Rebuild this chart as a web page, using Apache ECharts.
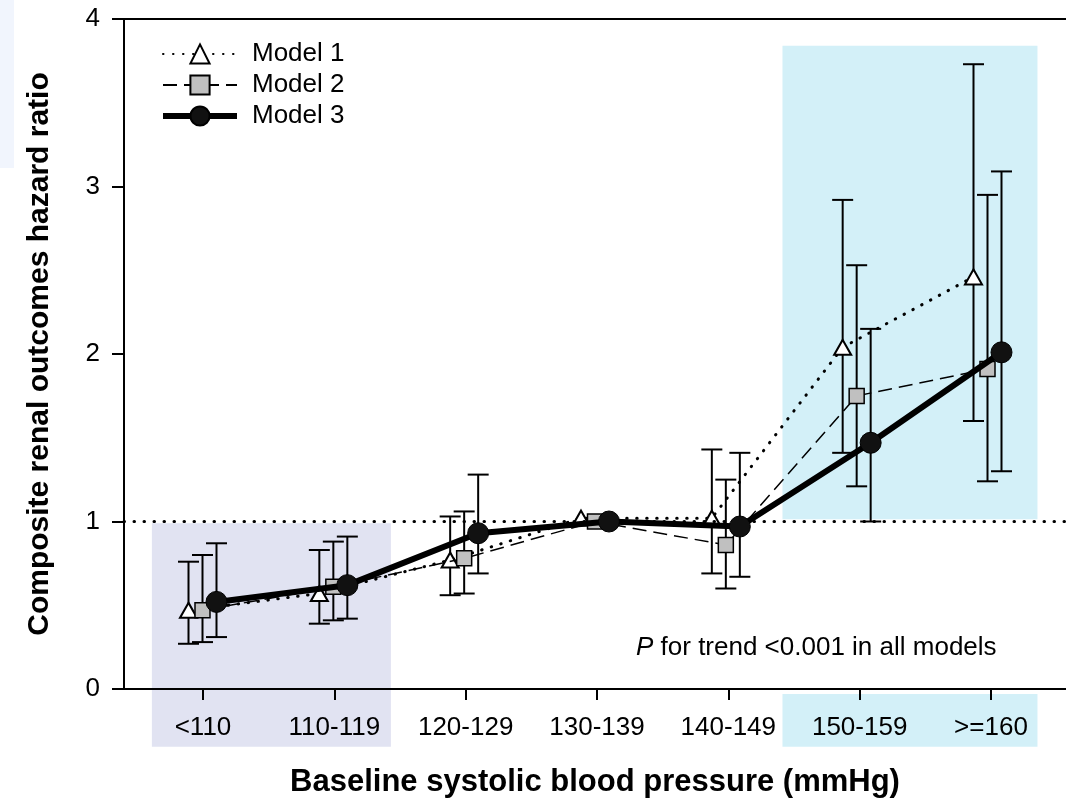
<!DOCTYPE html>
<html>
<head>
<meta charset="utf-8">
<script src="https://cdn.jsdelivr.net/npm/echarts@6/dist/echarts.min.js"></script>
<style>html,body{margin:0;padding:0;background:#fff}#c{width:1066px;height:803px}</style>
</head>
<body>
<div id="c"></div>
<script>
const categories = ['<110', '110-119', '120-129', '130-139', '140-149', '150-159', '>=160'];
const yTicks = [0, 1, 2, 3, 4];
const model1 = [0.47, 0.57, 0.77, 1.02, 1.02, 2.04, 2.46];
const model1Lo = [0.27, 0.39, 0.56, null, 0.69, 1.41, 1.60];
const model1Hi = [0.76, 0.83, 1.03, null, 1.43, 2.92, 3.73];
const model2 = [0.47, 0.61, 0.78, 1.00, 0.86, 1.75, 1.91];
const model2Lo = [0.28, 0.41, 0.57, null, 0.60, 1.21, 1.24];
const model2Hi = [0.80, 0.88, 1.06, null, 1.25, 2.53, 2.95];
const model3 = [0.52, 0.62, 0.93, 1.00, 0.97, 1.47, 2.01];
const model3Lo = [0.31, 0.42, 0.69, null, 0.67, 1.00, 1.30];
const model3Hi = [0.87, 0.91, 1.28, null, 1.41, 2.15, 3.09];
const referenceHR = 1;

const FONT = "'Liberation Sans', Arial, sans-serif";
const OFF = 0.107;
const pos = (i, d) => i + 1 + d;

function pts(vals, d) { return vals.map((v, i) => [pos(i, d), v]); }
function bars(lo, hi, d) {
  const out = [];
  lo.forEach((l, i) => { if (l != null && hi[i] != null) out.push([pos(i, d), l, hi[i]]); });
  return out;
}
function errSeries(data) {
  return {
    type: 'custom', xAxisIndex: 0, yAxisIndex: 0, z: 1, silent: true,
    data: data,
    encode: { x: 0, y: [1, 2] },
    renderItem: function (params, api) {
      const x = api.value(0), lo = api.value(1), hi = api.value(2);
      const a = api.coord([x, lo]), b = api.coord([x, hi]);
      const hw = 10.5;
      const st = { stroke: '#000', lineWidth: 2 };
      return {
        type: 'group', children: [
          { type: 'line', shape: { x1: a[0], y1: a[1], x2: b[0], y2: b[1] }, style: st },
          { type: 'line', shape: { x1: a[0] - hw, y1: a[1], x2: a[0] + hw, y2: a[1] }, style: st },
          { type: 'line', shape: { x1: b[0] - hw, y1: b[1], x2: b[0] + hw, y2: b[1] }, style: st }
        ]
      };
    }
  };
}

const chart = echarts.init(document.getElementById('c'), null, { renderer: 'canvas' });
const option = {
  animation: false,
  backgroundColor: '#fff',
  textStyle: { fontFamily: FONT },
  grid: [
    { left: 124, top: 19, width: 945.6, height: 671 },
    { left: 137.33, top: 19, width: 919.3, height: 671 }
  ],
  xAxis: [
    {
      gridIndex: 0, type: 'value', min: 0.4, max: 7.6,
      axisLine: { show: true, lineStyle: { color: '#000', width: 2 } },
      axisTick: { show: false }, axisLabel: { show: false }, splitLine: { show: false },
      name: 'Baseline systolic blood pressure (mmHg)', nameLocation: 'middle', nameGap: 78,
      nameTextStyle: { fontSize: 31, fontWeight: 'bold', color: '#000', fontFamily: FONT }
    },
    {
      gridIndex: 1, type: 'category', data: categories, boundaryGap: true,
      axisLine: { show: false },
      axisTick: { show: true, alignWithLabel: true, length: 10, lineStyle: { color: '#000', width: 2 } },
      axisLabel: { fontSize: 26, color: '#000', margin: 25, fontFamily: FONT, interval: 0 },
      splitLine: { show: false }
    },
    {
      gridIndex: 0, type: 'value', position: 'top', min: 0.4, max: 7.6,
      axisLine: { show: true, lineStyle: { color: '#000', width: 2 } },
      axisTick: { show: false }, axisLabel: { show: false }, splitLine: { show: false }
    }
  ],
  yAxis: [
    {
      gridIndex: 0, type: 'value', min: yTicks[0], max: yTicks[yTicks.length - 1], interval: 1,
      axisLine: { show: true, lineStyle: { color: '#000', width: 2 } },
      axisTick: { show: true, length: 12, lineStyle: { color: '#000', width: 2 } },
      axisLabel: { fontSize: 26, color: '#000', margin: 24, fontFamily: FONT },
      splitLine: { show: false },
      name: 'Composite renal outcomes hazard ratio', nameLocation: 'middle', nameGap: 69,
      nameTextStyle: { fontSize: 30, fontWeight: 'bold', color: '#000', fontFamily: FONT }
    },
    { gridIndex: 1, type: 'value', min: 0, max: 4, show: false }
  ],
  legend: {
    data: [
      { name: 'Model 1' },
      { name: 'Model 2' },
      { name: 'Model 3', lineStyle: { width: 6, color: '#000' } }
    ],
    orient: 'vertical', left: 155, top: 36,
    itemWidth: 74, itemHeight: 24, itemGap: 5,
    textStyle: { fontSize: 26, color: '#000', fontFamily: FONT, padding: [0, 0, 0, 10] }
  },
  title: {
    text: '{i|P} for trend <0.001 in all models',
    left: 631, top: 630,
    textStyle: {
      fontSize: 26, fontWeight: 'normal', color: '#000', fontFamily: FONT,
      rich: { i: { fontStyle: 'italic', fontSize: 26, color: '#000', fontFamily: FONT } }
    }
  },
  series: [
    errSeries(bars(model1Lo, model1Hi, -OFF)),
    errSeries(bars(model2Lo, model2Hi, 0)),
    errSeries(bars(model3Lo, model3Hi, OFF)),
    {
      name: 'Model 1', type: 'line', xAxisIndex: 0, yAxisIndex: 0, z: 3,
      data: pts(model1, -OFF),
      symbol: 'triangle', symbolSize: [17, 15],
      lineStyle: { color: '#000', width: 3, type: [0.5, 9.5], cap: 'round' },
      itemStyle: { color: '#fff', borderColor: '#000', borderWidth: 2 },
      markLine: {
        silent: true, symbol: 'none', label: { show: false },
        lineStyle: { color: '#000', width: 3, type: [0.5, 9.5], cap: 'round' },
        data: [{ yAxis: referenceHR }]
      }
    },
    {
      name: 'Model 2', type: 'line', xAxisIndex: 0, yAxisIndex: 0, z: 4,
      data: pts(model2, 0),
      symbol: 'rect', symbolSize: 15,
      lineStyle: { color: '#000', width: 1.5, type: [14, 7] },
      itemStyle: { color: '#c0c0c0', borderColor: '#000', borderWidth: 1.5 }
    },
    {
      name: 'Model 3', type: 'line', xAxisIndex: 0, yAxisIndex: 0, z: 5,
      data: pts(model3, OFF),
      symbol: 'circle', symbolSize: 21,
      lineStyle: { color: '#000', width: 6 },
      itemStyle: { color: '#111', borderColor: '#000', borderWidth: 1 }
    }
  ]
};
chart.setOption(option);

// shaded bands (in data units of grid 0)
const shadeBands = [
  { x: [0.613, 2.44], y: [-0.345, 0.99], color: '#e1e3f2' },
  { x: [5.433, 7.382], y: [1.013, 3.84], color: '#d3f0f8' },
  { x: [5.433, 7.382], y: [-0.345, -0.03], color: '#d3f0f8' }
];
const g = shadeBands.map(b => {
  const p1 = chart.convertToPixel({ gridIndex: 0 }, [b.x[0], b.y[1]]);
  const p2 = chart.convertToPixel({ gridIndex: 0 }, [b.x[1], b.y[0]]);
  return {
    type: 'rect', z: -1, silent: true,
    shape: { x: p1[0], y: p1[1], width: p2[0] - p1[0], height: p2[1] - p1[1] },
    style: { fill: b.color }
  };
});
g.push({ type: 'rect', z: -1, silent: true, shape: { x: 0, y: 0, width: 14, height: 168 }, style: { fill: '#f1f5fd' } });
chart.setOption({ graphic: g });
</script>
</body>
</html>
